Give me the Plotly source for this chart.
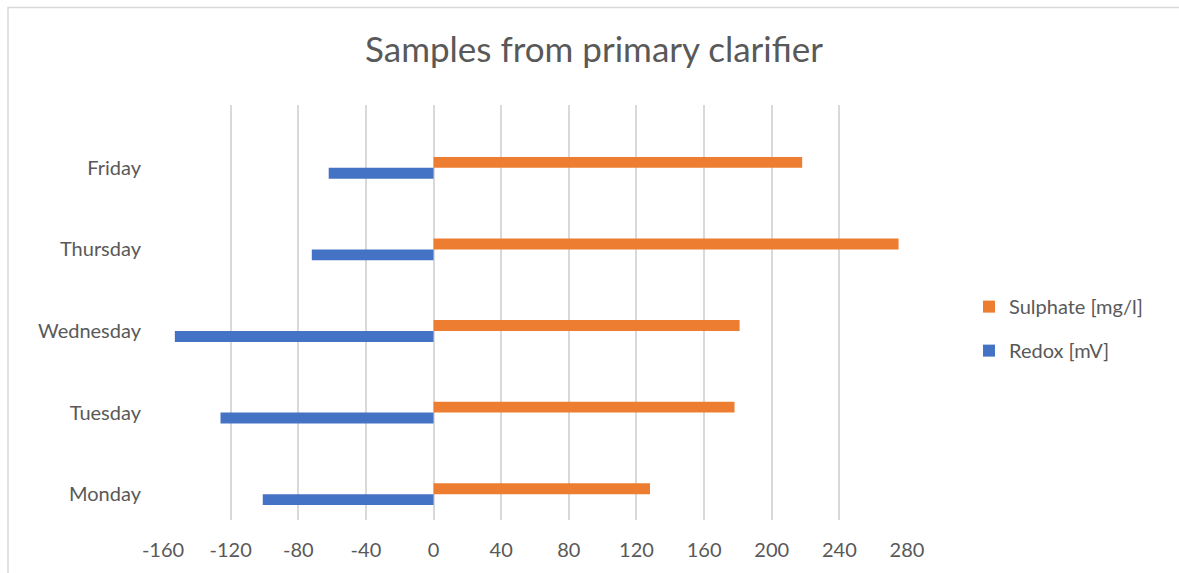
import plotly.graph_objects as go

# Weekday samples taken from the primary clarifier
days = ["Monday", "Tuesday", "Wednesday", "Thursday", "Friday"]
redox_mv = [-101, -126, -153, -72, -62]
sulphate_mg_l = [128, 178, 181, 275, 218]
x_ticks = [-160, -120, -80, -40, 0, 40, 80, 120, 160, 200, 240, 280]

W, H = 1179, 573
# plot area in pixels
L, R, T, B = 163, 907, 105, 522

TEXT = "#595959"
GRID = "#D9D9D9"
FONT = "Lato"

fig = go.Figure()
fig.add_trace(go.Bar(
    y=days, x=redox_mv, orientation="h", name="Redox [mV]",
    marker=dict(color="#4472C4", line=dict(width=0)),
    legendgroup="r", legendrank=2,
))
fig.add_trace(go.Bar(
    y=days, x=sulphate_mg_l, orientation="h", name="Sulphate [mg/l]",
    marker=dict(color="#ED7D31", line=dict(width=0)),
    legendgroup="s", legendrank=1,
))

pw, ph = R - L, B - T


def px_x(p):
    return (p - L) / pw


def px_y(p):
    return (B - p) / ph


fig.update_layout(
    width=W, height=H,
    margin=dict(l=L, r=W - R, t=T, b=H - B, pad=0),
    paper_bgcolor="white", plot_bgcolor="white",
    barmode="group", bargap=0.732, bargroupgap=0,
    font=dict(family=FONT, color=TEXT, size=20),
    title=dict(
        text="Samples from primary clarifier",
        x=594 / W, xanchor="center", y=1 - 50 / H, yanchor="middle",
        font=dict(family=FONT, size=35, color=TEXT),
    ),
    xaxis=dict(
        range=[-160, 280], tickvals=x_ticks, ticktext=[str(v) for v in x_ticks],
        showgrid=True, gridcolor=GRID, gridwidth=2,
        zeroline=True, zerolinecolor=GRID, zerolinewidth=2,
        showline=False, ticks="outside", ticklen=12, tickcolor="rgba(0,0,0,0)",
        tickfont=dict(size=20, color=TEXT), fixedrange=True,
    ),
    yaxis=dict(
        categoryorder="array", categoryarray=days,
        range=[-0.317, 4.77], showgrid=False, zeroline=False, showline=False,
        ticks="outside", ticklen=17, tickcolor="rgba(0,0,0,0)",
        tickfont=dict(size=20, color=TEXT), fixedrange=True,
    ),
    legend=dict(
        x=px_x(969), xanchor="left", y=px_y(288), yanchor="top",
        traceorder="grouped", tracegroupgap=15,
        font=dict(size=20, color=TEXT), bgcolor="rgba(0,0,0,0)",
        itemwidth=30,
    ),
    showlegend=True,
    shapes=[dict(
        type="rect", xref="paper", yref="paper",
        x0=px_x(8), x1=px_x(W + 10), y0=px_y(H + 10), y1=px_y(7),
        line=dict(color=GRID, width=1.5), fillcolor="rgba(0,0,0,0)", layer="below",
    )],
)

fig.write_html("out.html")
